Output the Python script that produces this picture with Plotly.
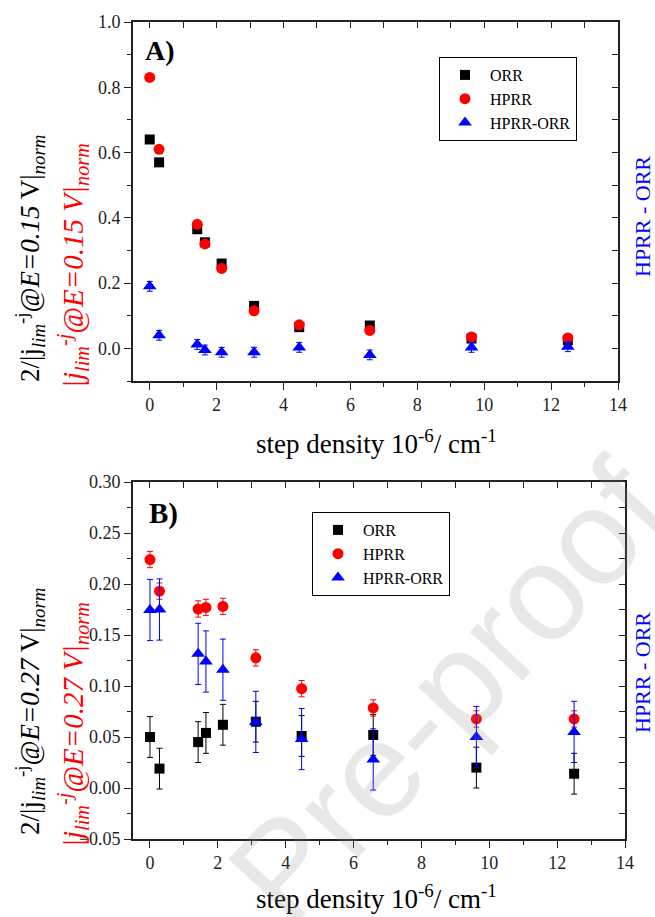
import plotly.graph_objects as go

# ---------------- data ----------------
step_density = [0, 0.28, 1.42, 1.65, 2.15, 3.12, 4.47, 6.58, 9.62, 12.5]

# Panel A (E = 0.15 V)
orr_a = [0.64, 0.57, 0.365, 0.325, 0.26, 0.13, 0.065, 0.07, 0.03, 0.025]
orr_a_err = [0.005, 0.005, 0.005, 0.005, 0.005, 0.005, 0.005, 0.005, 0.005, 0.005]
hprr_a = [0.83, 0.61, 0.38, 0.32, 0.245, 0.115, 0.072, 0.055, 0.035, 0.032]
hprr_a_err = [0.005, 0.005, 0.005, 0.005, 0.005, 0.005, 0.005, 0.005, 0.005, 0.005]
diff_a = [0.19, 0.04, 0.012, -0.005, -0.012, -0.012, 0.003, -0.02, 0.003, 0.005]
diff_a_err = [0.015, 0.015, 0.015, 0.015, 0.015, 0.015, 0.015, 0.015, 0.015, 0.015]

# Panel B (E = 0.27 V)
orr_b = [0.05, 0.019, 0.045, 0.054, 0.062, 0.065, 0.051, 0.052, 0.02, 0.014]
orr_b_err = [0.02, 0.02, 0.02, 0.02, 0.02, 0.02, 0.02, 0.02, 0.02, 0.02]
hprr_b = [0.224, 0.193, 0.1755, 0.177, 0.178, 0.1276, 0.0974, 0.0785, 0.0677, 0.0677]
hprr_b_err = [0.008, 0.008, 0.008, 0.008, 0.008, 0.008, 0.008, 0.008, 0.008, 0.008]
diff_b = [0.1745, 0.175, 0.1315, 0.124, 0.116, 0.0648, 0.048, 0.028, 0.05, 0.055]
diff_b_err = [0.03, 0.03, 0.03, 0.03, 0.03, 0.03, 0.03, 0.03, 0.03, 0.03]

series_names = ["ORR", "HPRR", "HPRR-ORR"]
x_ticks = [0, 2, 4, 6, 8, 10, 12, 14]

# ---------------- styling ----------------
W, H = 655, 917
SERIF = "Liberation Serif, Times New Roman, serif"
AX = "#222222"
BLACK, RED, BLUE = "#000000", "#ff0000", "#0000ff"

def px(x):
    return x / W

def py(y):
    return 1 - y / H

fig = go.Figure()

def add_panel(xa, ya, orr, orr_e, hprr, hprr_e, diff, diff_e, legend):
    common = dict(x=step_density, mode="markers", xaxis=xa, yaxis=ya,
                  legend=legend, hoverinfo="x+y")
    fig.add_trace(go.Scatter(y=orr, name=series_names[0], **common,
                             marker=dict(symbol="square", size=10, color=BLACK),
                             error_y=dict(type="data", array=orr_e, color=BLACK,
                                          thickness=1, width=3)))
    fig.add_trace(go.Scatter(y=hprr, name=series_names[1], **common,
                             marker=dict(symbol="circle", size=11, color=RED),
                             error_y=dict(type="data", array=hprr_e, color=RED,
                                          thickness=1, width=3)))
    fig.add_trace(go.Scatter(y=diff, name=series_names[2], **common,
                             marker=dict(symbol="triangle-up", size=12, color=BLUE),
                             error_y=dict(type="data", array=diff_e, color=BLUE,
                                          thickness=1, width=3)))

add_panel("x", "y", orr_a, orr_a_err, hprr_a, hprr_a_err, diff_a, diff_a_err, "legend")
add_panel("x2", "y2", orr_b, orr_b_err, hprr_b, hprr_b_err, diff_b, diff_b_err, "legend2")

# dummy traces so the mirror (top / right) axes are drawn
for xa, ya in [("x3", "y"), ("x", "y3"), ("x4", "y2"), ("x2", "y4")]:
    fig.add_trace(go.Scatter(x=[], y=[], xaxis=xa, yaxis=ya, showlegend=False,
                             hoverinfo="skip"))

tickfont = dict(family=SERIF, size=18, color=AX)
line = dict(showline=True, linecolor=AX, linewidth=1.6, showgrid=False,
            zeroline=False, automargin=False)

def xaxis_main(domain, anchor):
    return dict(domain=domain, anchor=anchor, range=[-0.5, 14], tickvals=x_ticks,
                ticks="outside", ticklen=7, tickwidth=1.4, tickcolor=AX,
                minor=dict(ticks="outside", ticklen=4, dtick=1, tick0=0,
                           tickwidth=1.4, tickcolor=AX),
                tickfont=tickfont, **line)

def xaxis_top(over, anchor):
    return dict(overlaying=over, matches=over, anchor=anchor, side="top",
                ticks="inside", ticklen=6, tickwidth=1.4, tickcolor=AX,
                dtick=1, tick0=0, showticklabels=False, **line)

def yaxis_right(over, anchor, dt):
    return dict(overlaying=over, matches=over, anchor=anchor, side="right",
                ticks="inside", ticklen=6, tickwidth=1.4, tickcolor=AX,
                dtick=dt, tick0=0, showticklabels=False, **line)

xa_dom = [px(133), px(618)]
xb_dom = [px(133), px(625)]

legend_style = dict(xanchor="left", yanchor="top", bordercolor="#000",
                    borderwidth=1, bgcolor="white", itemwidth=40,
                    font=dict(family=SERIF, size=16, color="#000"),
                    tracegroupgap=0, itemsizing="trace")

fig.update_layout(
    width=W, height=H, margin=dict(l=0, r=0, t=0, b=0, autoexpand=False),
    paper_bgcolor="white", plot_bgcolor="white",
    font=dict(family=SERIF, color=AX),
    xaxis=xaxis_main(xa_dom, "y"),
    xaxis2=xaxis_main(xb_dom, "y2"),
    xaxis3=xaxis_top("x", "y"),
    xaxis4=xaxis_top("x2", "y2"),
    yaxis=dict(domain=[py(381), py(22)], anchor="x", range=[-0.1, 1.0],
               dtick=0.2, tick0=0, tickformat=".1f", ticks="outside", ticklen=7,
               tickwidth=1.4, tickcolor=AX,
               minor=dict(ticks="outside", ticklen=4, dtick=0.1, tick0=0,
                          tickwidth=1.4, tickcolor=AX),
               tickfont=tickfont, **line),
    yaxis2=dict(domain=[py(839), py(482)], anchor="x2", range=[-0.05, 0.30],
                dtick=0.05, tick0=0, tickformat=".2f", ticks="outside", ticklen=7,
                tickwidth=1.4, tickcolor=AX,
                minor=dict(ticks="outside", ticklen=4, dtick=0.025, tick0=0,
                           tickwidth=1.4, tickcolor=AX),
                tickfont=tickfont, **line),
    yaxis3=yaxis_right("y", "x", 0.1),
    yaxis4=yaxis_right("y2", "x2", 0.025),
    legend=dict(x=px(439), y=py(57), **legend_style),
    legend2=dict(x=px(312), y=py(512), **legend_style),
    showlegend=True,
)

ann = []
xtitle = "step density 10<sup>-6</sup>/ cm<sup>-1</sup>"
for yc in (442, 897):
    ann.append(dict(text=xtitle, x=px(376), y=py(yc), xref="paper", yref="paper",
                    xanchor="center", yanchor="middle", showarrow=False,
                    font=dict(family=SERIF, size=27, color="#000")))

ann.append(dict(text="<b>A)</b>", x=px(160), y=py(51), xref="paper", yref="paper",
                xanchor="center", yanchor="middle", showarrow=False,
                font=dict(family=SERIF, size=28, color="#000")))
ann.append(dict(text="<b>B)</b>", x=px(163), y=py(513), xref="paper", yref="paper",
                xanchor="center", yanchor="middle", showarrow=False,
                font=dict(family=SERIF, size=29, color="#000")))

def ytitles(volt, yb, yr):
    black = ("2/|j<sub><i>lim</i></sub><sup>-j</sup><i>@E=" + volt + "</i> V|"
             "<sub><i>norm</i></sub>")
    red = ("<i>|j<sub>lim</sub><sup>-j</sup>@E=" + volt + " V|"
           "<sub>norm</sub></i>")
    ann.append(dict(text=black, x=px(30), y=py(yb), xref="paper", yref="paper",
                    xanchor="center", yanchor="middle", textangle=-90,
                    showarrow=False, font=dict(family=SERIF, size=27, color=BLACK)))
    ann.append(dict(text=red, x=px(73), y=py(yr), xref="paper", yref="paper",
                    xanchor="center", yanchor="middle", textangle=-90,
                    showarrow=False, font=dict(family=SERIF, size=29, color=RED)))

ytitles("0.15", 259, 266)
ytitles("0.27", 712, 725)

for yc in (217, 673):
    ann.append(dict(text="HPRR - ORR", x=px(642), y=py(yc), xref="paper",
                    yref="paper", xanchor="center", yanchor="middle",
                    textangle=-90, showarrow=False,
                    font=dict(family=SERIF, size=22, color=BLUE)))

# watermark
ann.append(dict(text="Pre-proof", x=px(448), y=py(692), xref="paper", yref="paper",
                xanchor="center", yanchor="middle", textangle=-47, showarrow=False,
                font=dict(family="Liberation Sans, Arial, sans-serif", size=136,
                          color="rgba(140,140,140,0.2)")))

fig.update_layout(annotations=ann)

fig.write_html("out.html",
               config={"displayModeBar": False},
               post_script="document.body.style.margin='0';"
                           "document.body.style.overflow='hidden';")
